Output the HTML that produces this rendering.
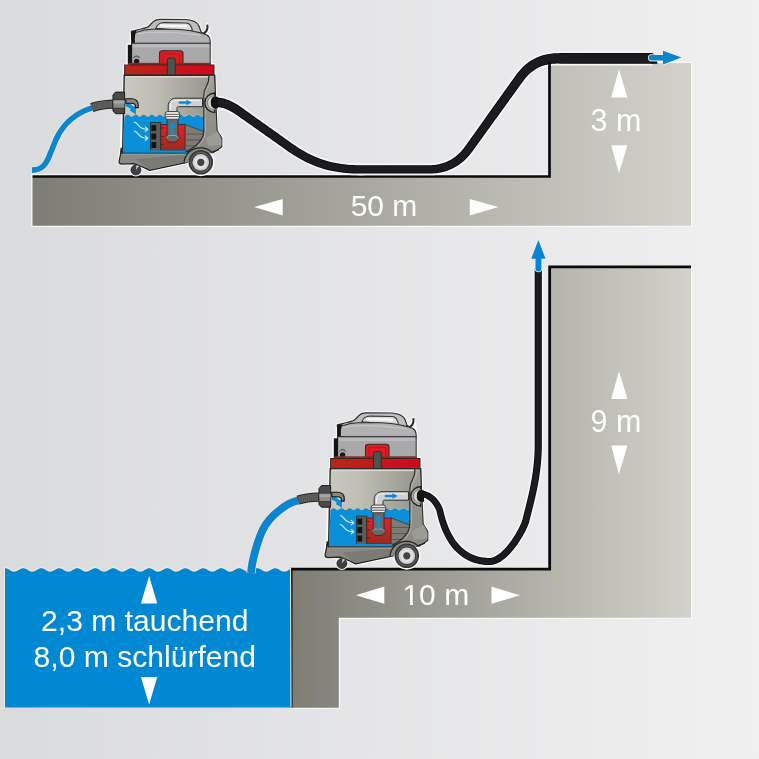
<!DOCTYPE html>
<html><head><meta charset="utf-8">
<style>
html,body{margin:0;padding:0;width:759px;height:759px;overflow:hidden;background:#e5e5e6;}
svg{display:block;}
text{font-family:"Liberation Sans",sans-serif;}
</style></head><body>
<svg width="759" height="759" viewBox="0 0 759 759">
<defs>
<linearGradient id="bg" x1="0" y1="0" x2="759" y2="0" gradientUnits="userSpaceOnUse">
<stop offset="0" stop-color="#dadbdd"/><stop offset="1" stop-color="#f0f0f1"/>
</linearGradient>
<linearGradient id="blk" x1="33" y1="0" x2="691" y2="0" gradientUnits="userSpaceOnUse">
<stop offset="0" stop-color="#7d7d74"/><stop offset="1" stop-color="#d2d2ca"/>
</linearGradient>
<linearGradient id="blk2" x1="290" y1="0" x2="691" y2="0" gradientUnits="userSpaceOnUse">
<stop offset="0" stop-color="#7d7d74"/><stop offset="1" stop-color="#d2d2ca"/>
</linearGradient>
<linearGradient id="redband" x1="124" y1="0" x2="214" y2="0" gradientUnits="userSpaceOnUse">
<stop offset="0" stop-color="#b22a1a"/><stop offset="0.5" stop-color="#c4181c"/><stop offset="1" stop-color="#d2061c"/>
</linearGradient>
<linearGradient id="tankg" x1="125" y1="0" x2="210" y2="0" gradientUnits="userSpaceOnUse">
<stop offset="0" stop-color="#c9c8be"/><stop offset="0.35" stop-color="#bfbeb4"/><stop offset="1" stop-color="#97968c"/>
</linearGradient>
<linearGradient id="pumpred" x1="0" y1="124" x2="0" y2="151" gradientUnits="userSpaceOnUse">
<stop offset="0" stop-color="#e5202a"/><stop offset="1" stop-color="#9a2a1c"/>
</linearGradient>
<linearGradient id="shellg" x1="0" y1="75" x2="0" y2="150" gradientUnits="userSpaceOnUse">
<stop offset="0" stop-color="#a2a199"/><stop offset="0.5" stop-color="#93928b"/><stop offset="1" stop-color="#8a8984"/>
</linearGradient>
<g id="vac">
<g fill="#fbfbfb" stroke="#fbfbfb" stroke-width="3" stroke-linejoin="round">
<path d="M131.3,31.4 L137.5,29.8 C141,29 144,28.5 147,27.4 C150,26 151,23.5 153.5,21.5 C155,20 156.5,19.3 160,19.3 L186,19.5 C193,20 197,21.5 199,26 L201,31.8 L204.3,33.7 L207.5,24.6 L210.2,40 L210.2,64.6 L214,64.6 L214.6,75.2 L216.3,112 L217.2,130.5 L221.8,138 L221.8,147 L213.5,152.6 L200.8,174.6 L188.5,162.3 L149.6,170.7 L146,168.6 L133,163.6 L122,164.1 L119,161.3 L121.2,148 L124.2,75.2 L124.6,65 L127.8,64.6 L127.8,44.8 L131.5,43.2 Z"/>
<circle cx="200.8" cy="162.3" r="12.3"/>
<circle cx="135.9" cy="170" r="5"/>
</g>
<!-- handle -->
<path d="M131.3,31.4 L137.5,29.8 C141,29 144,28.5 147,27.4 C150,26 151,23.5 153.5,21.5 C155,20 156.5,19.3 160,19.3 L186,19.5 C193,20 197,21.5 199,26 L201,31.8 L204.3,33.7 L204,40 L132,40 Z" fill="#bebec0" stroke="#2e2e2e" stroke-width="1.2" stroke-linejoin="round"/>
<path d="M155.8,28.4 C157.3,24.5 159,22.6 164,22.6 L186.5,23 C190.5,23.5 191.8,26.5 192.4,31.2 Z" fill="#dcdcde" stroke="#333" stroke-width="1.1"/>
<path d="M160,25.6 L187,26.2" stroke="#fafafa" stroke-width="2" fill="none"/>
<!-- hook -->
<path d="M203.6,33.8 C206,32 207.5,30 207.5,27.5 L207.3,24.6" fill="none" stroke="#2a2a2a" stroke-width="2"/>
<!-- dome -->
<path d="M132,43.6 L132.3,33 C134,32.5 136,32.4 137.5,32 C142,30.2 146,29.3 152,29.2 L175,29.2 C186,29.6 195,31.2 201.6,33.1 L206.9,35 C208.8,36.2 209.9,38 210.1,40.5 L210.2,43.6 Z" fill="#b2b2b4" stroke="#2e2e2e" stroke-width="1.1" stroke-linejoin="round"/>
<path d="M137,33.8 C150,31.5 170,31.3 200,35.3" stroke="#cbcbcd" stroke-width="1" fill="none"/>
<path d="M131.2,31.5 L136.5,30.8 C135,34 134.5,38 135,43.5 L131.2,43.5 Z" fill="#141414"/>
<!-- lower head -->
<rect x="131.5" y="43.2" width="78.7" height="21" fill="#a9a9ab" stroke="#2e2e2e" stroke-width="1"/>
<rect x="133" y="44.5" width="76" height="3" fill="#bbbbbd"/>
<rect x="127.8" y="44.8" width="4.3" height="19.5" fill="#141414"/>
<circle cx="136.6" cy="61.5" r="2.7" fill="#1a1a1a"/>
<path d="M133.5,58 C135,55.5 138,55.5 139.7,58" stroke="#222" stroke-width="0.9" fill="none"/>
<!-- red clip -->
<path d="M159.5,64.6 L159.5,53.5 C159.5,51.8 160.6,50.8 162.4,50.8 L180.2,50.8 C182,50.8 183,51.8 183,53.5 L183,64.6 Z" fill="#dc1c22" stroke="#3a2a2a" stroke-width="1.1"/>
<path d="M163,64 L163,55.5 C163,54.5 163.6,54 164.6,54 L178,54 C179,54 179.6,54.5 179.6,55.5 L179.6,64" fill="none" stroke="#b01a1a" stroke-width="0.8"/>
<!-- red band -->
<rect x="128.5" y="62.8" width="82" height="2.4" fill="#8c2a20"/>
<rect x="124.6" y="65" width="89.4" height="10" fill="url(#redband)" stroke="#3a2420" stroke-width="1"/>
<path d="M125.5,66.2 H213.2 M125.5,73.8 H213.2" stroke="#e8101c" stroke-width="0.9" opacity="0.55"/>
<!-- grey latch -->
<path d="M167.4,75.2 L167.4,60 C167.4,58.6 168.3,58.1 169.5,58.1 L173.2,58.1 C174.4,58.1 175.3,58.6 175.3,60 L175.3,75.2 Z" fill="#4f5350" stroke="#2a2a2a" stroke-width="0.9"/>
<!-- tank body -->
<path d="M124.2,75.2 L214.6,75.2 L215.3,120 L202,152.5 L122.6,152.5 Z" fill="url(#tankg)" stroke="#2a2a2a" stroke-width="1.4"/>
<rect x="126" y="76" width="82" height="1.6" fill="#d8d7cf"/>
<!-- water in tank -->
<path d="M124.5,115.99 L125.1,115.59 L125.7,115.13 L126.3,114.70 L126.9,114.41 L127.5,114.30 L128.1,114.41 L128.7,114.70 L129.3,115.13 L129.9,115.59 L130.5,115.99 L131.1,116.24 L131.7,116.29 L132.3,116.14 L132.9,115.80 L133.5,115.36 L134.1,114.90 L134.7,114.53 L135.3,114.33 L135.9,114.33 L136.5,114.53 L137.1,114.90 L137.7,115.36 L138.3,115.80 L138.9,116.14 L139.5,116.29 L140.1,116.24 L140.7,115.99 L141.3,115.59 L141.9,115.13 L142.5,114.70 L143.1,114.41 L143.7,114.30 L144.3,114.41 L144.9,114.70 L145.5,115.13 L146.1,115.59 L146.7,115.99 L147.3,116.24 L147.9,116.29 L148.5,116.14 L149.1,115.80 L149.7,115.36 L150.3,114.90 L150.9,114.53 L151.5,114.33 L152.1,114.33 L152.7,114.53 L153.3,114.90 L153.9,115.36 L154.5,115.80 L155.1,116.14 L155.7,116.29 L156.3,116.24 L156.9,115.99 L157.5,115.59 L158.1,115.13 L158.7,114.70 L159.3,114.41 L159.9,114.30 L160.5,114.41 L161.1,114.70 L161.7,115.13 L162.3,115.59 L162.9,115.99 L163.5,116.24 L164.1,116.29 L164.7,116.14 L165.3,115.80 L165.9,115.36 L166.5,114.90 L167.1,114.53 L167.7,114.33 L168.3,114.33 L168.9,114.53 L169.5,114.90 L170.1,115.36 L170.7,115.80 L171.3,116.14 L171.9,116.29 L172.5,114.43 L173.1,114.72 L173.7,115.12 L174.3,115.55 L174.9,115.94 L175.5,116.21 L176.1,116.30 L176.7,116.21 L177.3,115.94 L177.9,115.55 L178.5,115.12 L179.1,114.72 L179.7,114.43 L180.3,114.30 L180.9,114.37 L181.5,114.61 L182.1,114.98 L182.7,115.41 L183.3,115.82 L183.9,116.13 L184.5,116.29 L185.1,116.26 L185.7,116.04 L186.3,115.69 L186.9,115.26 L187.5,114.84 L188.1,114.51 L188.7,114.32 L189.3,114.32 L189.9,114.51 L190.5,114.84 L191.1,115.26 L191.7,115.69 L192.3,116.04 L192.9,116.26 L193.5,116.29 L194.1,116.13 L194.7,115.82 L195.3,115.41 L195.9,114.98 L196.5,114.61 L197.1,114.37 L197.7,114.30 L198.3,114.43 L198.9,114.72 L199.5,115.12 L200.1,115.55 L200.7,115.94 L201.3,116.21 L201.9,116.30 L202.5,116.21 L203.1,115.94 L203.7,115.55 L204,153 L122.8,153 Z" fill="#0a90d8"/>
<path d="M124.5,115.99 L125.1,115.59 L125.7,115.13 L126.3,114.70 L126.9,114.41 L127.5,114.30 L128.1,114.41 L128.7,114.70 L129.3,115.13 L129.9,115.59 L130.5,115.99 L131.1,116.24 L131.7,116.29 L132.3,116.14 L132.9,115.80 L133.5,115.36 L134.1,114.90 L134.7,114.53 L135.3,114.33 L135.9,114.33 L136.5,114.53 L137.1,114.90 L137.7,115.36 L138.3,115.80 L138.9,116.14 L139.5,116.29 L140.1,116.24 L140.7,115.99 L141.3,115.59 L141.9,115.13 L142.5,114.70 L143.1,114.41 L143.7,114.30 L144.3,114.41 L144.9,114.70 L145.5,115.13 L146.1,115.59 L146.7,115.99 L147.3,116.24 L147.9,116.29 L148.5,116.14 L149.1,115.80 L149.7,115.36 L150.3,114.90 L150.9,114.53 L151.5,114.33 L152.1,114.33 L152.7,114.53 L153.3,114.90 L153.9,115.36 L154.5,115.80 L155.1,116.14 L155.7,116.29 L156.3,116.24 L156.9,115.99 L157.5,115.59 L158.1,115.13 L158.7,114.70 L159.3,114.41 L159.9,114.30 L160.5,114.41 L161.1,114.70 L161.7,115.13 L162.3,115.59 L162.9,115.99 L163.5,116.24 L164.1,116.29 L164.7,116.14 L165.3,115.80 L165.9,115.36 L166.5,114.90 L167.1,114.53 L167.7,114.33 L168.3,114.33 L168.9,114.53 L169.5,114.90 L170.1,115.36 L170.7,115.80 L171.3,116.14 L171.9,116.29 L172.5,114.43 L173.1,114.72 L173.7,115.12 L174.3,115.55 L174.9,115.94 L175.5,116.21 L176.1,116.30 L176.7,116.21 L177.3,115.94 L177.9,115.55 L178.5,115.12 L179.1,114.72 L179.7,114.43 L180.3,114.30 L180.9,114.37 L181.5,114.61 L182.1,114.98 L182.7,115.41 L183.3,115.82 L183.9,116.13 L184.5,116.29 L185.1,116.26 L185.7,116.04 L186.3,115.69 L186.9,115.26 L187.5,114.84 L188.1,114.51 L188.7,114.32 L189.3,114.32 L189.9,114.51 L190.5,114.84 L191.1,115.26 L191.7,115.69 L192.3,116.04 L192.9,116.26 L193.5,116.29 L194.1,116.13 L194.7,115.82 L195.3,115.41 L195.9,114.98 L196.5,114.61 L197.1,114.37 L197.7,114.30 L198.3,114.43 L198.9,114.72 L199.5,115.12 L200.1,115.55 L200.7,115.94 L201.3,116.21 L201.9,116.30 L202.5,116.21 L203.1,115.94 L203.7,115.55" fill="none" stroke="#e9b993" stroke-width="0.9"/>
<!-- inlet spout + stream -->
<path d="M125.8,101.9 L135.9,106.7 L135.9,114.8 L133,113 L129,110.6 L130,109 L125.8,106.4 Z" fill="#0a90d8"/>
<path d="M125.9,106.8 L130.2,109.1 L129.2,110.8 L135.3,114.6" fill="none" stroke="#f1cfb5" stroke-width="0.9"/>
<path d="M131.8,104.4 L134.6,106.6" fill="none" stroke="#f6e0cf" stroke-width="1.1"/>
<path d="M125.8,98.7 L131,98.7 C135.5,98.7 138.2,101.3 138.2,105 L138.2,107.6 L135.3,107.6 L135.3,105.5 C135.3,104 134,103.2 131.5,103.2 L125.8,103.2 Z" fill="#8a8985" stroke="#111" stroke-width="1.1" stroke-linejoin="round"/>
<!-- swirl arrows -->
<path d="M134.3,122 C137.5,122.8 138.5,126.5 141.5,128 C143.5,129 145.5,129.3 147.6,129.3 M145.2,126.9 L147.9,129.3 L145.2,131.4 M134.3,131 C137.5,131.8 138.5,135.5 141.5,137 C143.5,138 145.5,138.3 147.6,138.3 M145.2,135.9 L147.9,138.3 L145.2,140.4" stroke="#cfeafa" stroke-width="1.1" fill="none" stroke-linecap="round" stroke-linejoin="round"/>
<!-- pump grille -->
<rect x="150.6" y="122.6" width="10.2" height="29.6" fill="#5e5d58" stroke="#2a2a2a" stroke-width="0.8"/>
<rect x="151.4" y="125" width="4.8" height="6" fill="#141414"/>
<rect x="151.4" y="133.5" width="4.8" height="6" fill="#141414"/>
<rect x="151.4" y="142" width="4.8" height="6" fill="#141414"/>
<!-- pump red -->
<rect x="160.8" y="124.5" width="24.4" height="26" fill="url(#pumpred)" stroke="#2a2a2a" stroke-width="0.8"/>
<path d="M161,128 H164 M161,136.5 H164 M161,144.5 H164" stroke="#2a2a2a" stroke-width="0.8"/>
<!-- motor grey -->
<path d="M185.2,124.5 L203.8,131.6 L203.8,150.4 L185.2,150.4 Z" fill="#7c7b76" stroke="#3a3a3a" stroke-width="0.8"/>
<path d="M186,134 H203 M186,140 H203 M186,146 H203" stroke="#56554f" stroke-width="0.9"/>
<rect x="122.8" y="150.4" width="81" height="3.2" fill="#0a90d8"/>
<!-- vertical pipe in pump -->
<path d="M167.1,118 L178,118 L178,136 L179.2,138.5 L176,142 L169,142 L165.6,138.5 L167.1,136 Z" fill="#6b6762" stroke="#2a2a2a" stroke-width="0.8"/>
<path d="M165.8,138 L169,135.5 L176,135.5 L179,138" fill="none" stroke="#9cc8dc" stroke-width="0.7"/>
<path d="M172.4,121.2 L176.3,127.6 L174,127.6 L174,135 L170.8,135 L170.8,127.6 L168.5,127.6 Z" fill="#0a90d8"/>
<!-- pipe up + elbow -->
<path d="M168.2,112 L168.2,106 C168.2,101.5 171.5,98.2 176,98.2 L202.5,98.2 L202.5,106.7 L178.5,106.7 C177.5,106.7 177,107.2 177,108.2 L177,112 Z" fill="#cfd1d3" stroke="#2e2e2e" stroke-width="1"/>
<path d="M170.5,110 L170.5,106 C170.5,103 172.5,100.5 176,100.5 L200,100.5" fill="none" stroke="#eeeff0" stroke-width="1.2"/>
<path d="M178.8,102.5 L187,102.5" stroke="#0a88d4" stroke-width="2.4"/>
<path d="M186.5,99.8 L191.8,102.5 L186.5,105.2 Z" fill="#0a88d4"/>
<!-- collar -->
<rect x="165.2" y="111.6" width="14.5" height="7.6" rx="2.2" fill="#ececec" stroke="#333" stroke-width="0.9"/>
<path d="M165.6,114.2 H179.3 M165.6,116.7 H179.3" stroke="#3a3a3a" stroke-width="0.9"/>
<path d="M167,113 H178 M167,118 H178" stroke="#ffffff" stroke-width="0.6"/>
<!-- shell right -->
<path d="M208.9,75.2 C209.2,79 208.8,82 206.5,86 C204,90 203.8,92 203.8,96 L203.8,131 C203.8,136 202,140 196,145.5 C192,148.5 189,150.5 186.3,151.5 L211.6,152.8 L213.5,152.6 L221.8,147 L221.8,138 L217.2,130.5 L216.3,112 L214.6,75.2 Z" fill="url(#shellg)" stroke="#2a2a2a" stroke-width="1.1" stroke-linejoin="round"/>
<path d="M210.3,76 C210.8,80 210.4,83 208,87 C205.6,91 205.3,93 205.3,97 L205.3,131 C205.3,137 203,141.5 197.5,146.5" fill="none" stroke="#bdbcb5" stroke-width="0.7"/>
<path d="M205.5,138 L217.8,131.5 L221.3,139 L221.5,145 L208,146 Z" fill="#9c9b96"/>
<!-- shell bottom -->
<path d="M121.2,148 C120.8,154 119.8,158.5 119,161.3 C119,163.3 120.3,164.1 122,164.1 L133,163.6 C137,164 141,166.5 146,168.6 L149.6,170.4 L187.1,162.3 L188,153.4 L122.3,153.4 Z" fill="#8a8984" stroke="#1e1e1e" stroke-width="1.2" stroke-linejoin="round"/>
<path d="M135.8,159.3 L176.3,155.4 L187,156 L187,161.8 L149.6,169.6 Z" fill="#7b7a75"/>
<path d="M123,154.6 L187,154.6" stroke="#9e9d97" stroke-width="1"/>
<path d="M122.6,153.6 L187,153.6" stroke="#8a6a55" stroke-width="0.8"/>
<!-- fender arch -->
<path d="M184,163.2 C184.5,154 191.5,147.8 200.8,147.8 C206,147.8 209.5,150 211.5,152.2 L219,149.6" fill="#8a8984" stroke="#222" stroke-width="1.2"/>
<!-- castor -->
<circle cx="135.9" cy="170" r="5" fill="#404040" stroke="#1e1e1e" stroke-width="0.8"/>
<path d="M135.9,170 L136.6,165 L139,166 Z" fill="#cfcfcf"/>
<!-- big wheel -->
<circle cx="200.8" cy="162.3" r="12.3" fill="#383838"/>
<circle cx="200.8" cy="162.3" r="10.5" fill="#6a6a6a"/>
<circle cx="200.8" cy="162.3" r="9.6" fill="#3a3a3a"/>
<circle cx="200.8" cy="162.3" r="8.3" fill="#cfcfcf"/>
<circle cx="200.8" cy="162.3" r="6.3" fill="#e2e2e2"/>
<circle cx="200.8" cy="162.3" r="3.6" fill="#444"/>
<!-- right coupling -->
<path d="M214.6,93 C209,93.5 204.8,97.5 204.8,102.8 C204.8,108 209,112 214.6,112.6 Z" fill="#a9a9a5" stroke="#1e1e1e" stroke-width="1.3"/>
<path d="M214.6,95.8 C210.5,96.3 207.6,99 207.6,102.8 C207.6,106.5 210.5,109.3 214.6,109.8 Z" fill="#d6d6d4" stroke="#6a6a68" stroke-width="0.8"/>
<path d="M210.8,102.5 C210.8,98.2 212.5,96.7 215.5,96.6 L218,96.9 L218,108.2 L215.5,108.4 C212.5,108.3 210.8,106.8 210.8,102.5 Z" fill="#141416"/>
<!-- inlet coupling -->
<path d="M113,95 L115.5,92.1 L124.6,92.1 L124.6,113.7 L115.5,113.7 L113,111 Z" fill="#4a4a48" stroke="#1a1a1a" stroke-width="1"/>
<rect x="113" y="99.6" width="11.8" height="8.5" fill="#8c8c88" stroke="#2a2a2a" stroke-width="0.7"/>
<rect x="113.5" y="101" width="11" height="2.5" fill="#a6a6a2"/>
</g>

</defs>
<rect x="0" y="0" width="759" height="759" fill="url(#bg)"/>
<!-- TOP GROUND -->
<path d="M32.5,175.2 H550 V63 H691 V225.8 H32.5 Z" fill="none" stroke="#f8f8f9" stroke-width="2.6"/>
<path d="M32.5,177 H550 V63 H691 V225.8 H32.5 Z" fill="url(#blk)"/>
<path d="M32.5,176.5 H549.5 V60" fill="none" stroke="#0a0a0a" stroke-width="2.7"/>
<!-- BOTTOM GROUND -->
<path d="M291,569 H550 V266.8 H691 V617.8 H338.8 V707.7 H291 Z" fill="none" stroke="#f8f8f9" stroke-width="2.6"/>
<path d="M291,569 H550 V266.8 H691 V617.8 H338.8 V707.7 H291 Z" fill="url(#blk2)"/>
<path d="M691,266.8 H549.65 V569.2 H291.1 V707.6" fill="none" stroke="#0a0a0a" stroke-width="2.8"/>
<!-- WATER -->
<path d="M5,707.6 L5.0,568.15 L6.0,568.22 L7.0,568.48 L8.0,568.92 L9.0,569.48 L10.0,570.08 L11.0,570.67 L12.0,571.16 L13.0,571.50 L14.0,571.65 L15.0,571.58 L16.0,571.32 L17.0,570.88 L18.0,570.32 L19.0,569.72 L20.0,569.13 L21.0,568.64 L22.0,568.30 L23.0,568.15 L24.0,568.22 L25.0,568.48 L26.0,568.92 L27.0,569.48 L28.0,570.08 L29.0,570.67 L30.0,571.16 L31.0,571.50 L32.0,571.65 L33.0,571.58 L34.0,571.32 L35.0,570.88 L36.0,570.32 L37.0,569.72 L38.0,569.13 L39.0,568.64 L40.0,568.30 L41.0,568.15 L42.0,568.22 L43.0,568.48 L44.0,568.92 L45.0,569.48 L46.0,570.08 L47.0,570.67 L48.0,571.16 L49.0,571.50 L50.0,571.65 L51.0,571.58 L52.0,571.32 L53.0,570.88 L54.0,570.32 L55.0,569.72 L56.0,569.13 L57.0,568.64 L58.0,568.30 L59.0,568.15 L60.0,568.22 L61.0,568.48 L62.0,568.92 L63.0,569.48 L64.0,570.08 L65.0,570.67 L66.0,571.16 L67.0,571.50 L68.0,571.65 L69.0,571.58 L70.0,571.32 L71.0,570.88 L72.0,570.32 L73.0,569.72 L74.0,569.13 L75.0,568.64 L76.0,568.30 L77.0,568.15 L78.0,568.22 L79.0,568.48 L80.0,568.92 L81.0,569.48 L82.0,570.08 L83.0,570.67 L84.0,571.16 L85.0,571.50 L86.0,571.65 L87.0,571.58 L88.0,571.32 L89.0,570.88 L90.0,570.32 L91.0,569.72 L92.0,569.13 L93.0,568.64 L94.0,568.30 L95.0,568.15 L96.0,568.22 L97.0,568.48 L98.0,568.92 L99.0,569.48 L100.0,570.08 L101.0,570.67 L102.0,571.16 L103.0,571.50 L104.0,571.65 L105.0,571.58 L106.0,571.32 L107.0,570.88 L108.0,570.32 L109.0,569.72 L110.0,569.13 L111.0,568.64 L112.0,568.30 L113.0,568.15 L114.0,568.22 L115.0,568.48 L116.0,568.92 L117.0,569.48 L118.0,570.08 L119.0,570.67 L120.0,571.16 L121.0,571.50 L122.0,571.65 L123.0,571.58 L124.0,571.32 L125.0,570.88 L126.0,570.32 L127.0,569.72 L128.0,569.13 L129.0,568.64 L130.0,568.30 L131.0,568.15 L132.0,568.22 L133.0,568.48 L134.0,568.92 L135.0,569.48 L136.0,570.08 L137.0,570.67 L138.0,571.16 L139.0,571.50 L140.0,571.65 L141.0,571.58 L142.0,571.32 L143.0,570.88 L144.0,570.32 L145.0,569.72 L146.0,569.13 L147.0,568.64 L148.0,568.30 L149.0,568.15 L150.0,568.22 L151.0,568.48 L152.0,568.92 L153.0,569.48 L154.0,570.08 L155.0,570.67 L156.0,571.16 L157.0,571.50 L158.0,571.65 L159.0,571.58 L160.0,571.32 L161.0,570.88 L162.0,570.32 L163.0,569.72 L164.0,569.13 L165.0,568.64 L166.0,568.30 L167.0,568.15 L168.0,568.22 L169.0,568.48 L170.0,568.92 L171.0,569.48 L172.0,570.08 L173.0,570.67 L174.0,571.16 L175.0,571.50 L176.0,571.65 L177.0,571.58 L178.0,571.32 L179.0,570.88 L180.0,570.32 L181.0,569.72 L182.0,569.13 L183.0,568.64 L184.0,568.30 L185.0,568.15 L186.0,568.22 L187.0,568.48 L188.0,568.92 L189.0,569.48 L190.0,570.08 L191.0,570.67 L192.0,571.16 L193.0,571.50 L194.0,571.65 L195.0,571.58 L196.0,571.32 L197.0,570.88 L198.0,570.32 L199.0,569.72 L200.0,569.13 L201.0,568.64 L202.0,568.30 L203.0,568.15 L204.0,568.22 L205.0,568.48 L206.0,568.92 L207.0,569.48 L208.0,570.08 L209.0,570.67 L210.0,571.16 L211.0,571.50 L212.0,571.65 L213.0,571.58 L214.0,571.32 L215.0,570.88 L216.0,570.32 L217.0,569.72 L218.0,569.13 L219.0,568.64 L220.0,568.30 L221.0,568.15 L222.0,568.22 L223.0,568.48 L224.0,568.92 L225.0,569.48 L226.0,570.08 L227.0,570.67 L228.0,571.16 L229.0,571.50 L230.0,571.65 L231.0,571.58 L232.0,571.32 L233.0,570.88 L234.0,570.32 L235.0,569.72 L236.0,569.13 L237.0,568.64 L238.0,568.30 L239.0,568.15 L240.0,568.22 L241.0,568.48 L242.0,568.92 L243.0,569.48 L244.0,570.08 L245.0,570.67 L246.0,571.16 L247.0,571.50 L248.0,571.65 L249.0,571.58 L250.0,571.32 L251.0,570.88 L252.0,570.32 L253.0,569.72 L254.0,569.13 L255.0,568.64 L256.0,568.30 L257.0,568.15 L258.0,568.22 L259.0,568.48 L260.0,568.92 L261.0,569.48 L262.0,570.08 L263.0,570.67 L264.0,571.16 L265.0,571.50 L266.0,571.65 L267.0,571.58 L268.0,571.32 L269.0,570.88 L270.0,570.32 L271.0,569.72 L272.0,569.13 L273.0,568.64 L274.0,568.30 L275.0,568.15 L276.0,568.22 L277.0,568.48 L278.0,568.92 L279.0,569.48 L280.0,570.08 L281.0,570.67 L282.0,571.16 L283.0,571.50 L284.0,571.65 L285.0,571.58 L286.0,571.32 L287.0,570.88 L288.0,570.32 L289.0,569.72 L290.0,569.13 L290.5,707.6" fill="none" stroke="#f7e8dc" stroke-width="2.2"/>
<path d="M5.0,568.15 L6.0,568.22 L7.0,568.48 L8.0,568.92 L9.0,569.48 L10.0,570.08 L11.0,570.67 L12.0,571.16 L13.0,571.50 L14.0,571.65 L15.0,571.58 L16.0,571.32 L17.0,570.88 L18.0,570.32 L19.0,569.72 L20.0,569.13 L21.0,568.64 L22.0,568.30 L23.0,568.15 L24.0,568.22 L25.0,568.48 L26.0,568.92 L27.0,569.48 L28.0,570.08 L29.0,570.67 L30.0,571.16 L31.0,571.50 L32.0,571.65 L33.0,571.58 L34.0,571.32 L35.0,570.88 L36.0,570.32 L37.0,569.72 L38.0,569.13 L39.0,568.64 L40.0,568.30 L41.0,568.15 L42.0,568.22 L43.0,568.48 L44.0,568.92 L45.0,569.48 L46.0,570.08 L47.0,570.67 L48.0,571.16 L49.0,571.50 L50.0,571.65 L51.0,571.58 L52.0,571.32 L53.0,570.88 L54.0,570.32 L55.0,569.72 L56.0,569.13 L57.0,568.64 L58.0,568.30 L59.0,568.15 L60.0,568.22 L61.0,568.48 L62.0,568.92 L63.0,569.48 L64.0,570.08 L65.0,570.67 L66.0,571.16 L67.0,571.50 L68.0,571.65 L69.0,571.58 L70.0,571.32 L71.0,570.88 L72.0,570.32 L73.0,569.72 L74.0,569.13 L75.0,568.64 L76.0,568.30 L77.0,568.15 L78.0,568.22 L79.0,568.48 L80.0,568.92 L81.0,569.48 L82.0,570.08 L83.0,570.67 L84.0,571.16 L85.0,571.50 L86.0,571.65 L87.0,571.58 L88.0,571.32 L89.0,570.88 L90.0,570.32 L91.0,569.72 L92.0,569.13 L93.0,568.64 L94.0,568.30 L95.0,568.15 L96.0,568.22 L97.0,568.48 L98.0,568.92 L99.0,569.48 L100.0,570.08 L101.0,570.67 L102.0,571.16 L103.0,571.50 L104.0,571.65 L105.0,571.58 L106.0,571.32 L107.0,570.88 L108.0,570.32 L109.0,569.72 L110.0,569.13 L111.0,568.64 L112.0,568.30 L113.0,568.15 L114.0,568.22 L115.0,568.48 L116.0,568.92 L117.0,569.48 L118.0,570.08 L119.0,570.67 L120.0,571.16 L121.0,571.50 L122.0,571.65 L123.0,571.58 L124.0,571.32 L125.0,570.88 L126.0,570.32 L127.0,569.72 L128.0,569.13 L129.0,568.64 L130.0,568.30 L131.0,568.15 L132.0,568.22 L133.0,568.48 L134.0,568.92 L135.0,569.48 L136.0,570.08 L137.0,570.67 L138.0,571.16 L139.0,571.50 L140.0,571.65 L141.0,571.58 L142.0,571.32 L143.0,570.88 L144.0,570.32 L145.0,569.72 L146.0,569.13 L147.0,568.64 L148.0,568.30 L149.0,568.15 L150.0,568.22 L151.0,568.48 L152.0,568.92 L153.0,569.48 L154.0,570.08 L155.0,570.67 L156.0,571.16 L157.0,571.50 L158.0,571.65 L159.0,571.58 L160.0,571.32 L161.0,570.88 L162.0,570.32 L163.0,569.72 L164.0,569.13 L165.0,568.64 L166.0,568.30 L167.0,568.15 L168.0,568.22 L169.0,568.48 L170.0,568.92 L171.0,569.48 L172.0,570.08 L173.0,570.67 L174.0,571.16 L175.0,571.50 L176.0,571.65 L177.0,571.58 L178.0,571.32 L179.0,570.88 L180.0,570.32 L181.0,569.72 L182.0,569.13 L183.0,568.64 L184.0,568.30 L185.0,568.15 L186.0,568.22 L187.0,568.48 L188.0,568.92 L189.0,569.48 L190.0,570.08 L191.0,570.67 L192.0,571.16 L193.0,571.50 L194.0,571.65 L195.0,571.58 L196.0,571.32 L197.0,570.88 L198.0,570.32 L199.0,569.72 L200.0,569.13 L201.0,568.64 L202.0,568.30 L203.0,568.15 L204.0,568.22 L205.0,568.48 L206.0,568.92 L207.0,569.48 L208.0,570.08 L209.0,570.67 L210.0,571.16 L211.0,571.50 L212.0,571.65 L213.0,571.58 L214.0,571.32 L215.0,570.88 L216.0,570.32 L217.0,569.72 L218.0,569.13 L219.0,568.64 L220.0,568.30 L221.0,568.15 L222.0,568.22 L223.0,568.48 L224.0,568.92 L225.0,569.48 L226.0,570.08 L227.0,570.67 L228.0,571.16 L229.0,571.50 L230.0,571.65 L231.0,571.58 L232.0,571.32 L233.0,570.88 L234.0,570.32 L235.0,569.72 L236.0,569.13 L237.0,568.64 L238.0,568.30 L239.0,568.15 L240.0,568.22 L241.0,568.48 L242.0,568.92 L243.0,569.48 L244.0,570.08 L245.0,570.67 L246.0,571.16 L247.0,571.50 L248.0,571.65 L249.0,571.58 L250.0,571.32 L251.0,570.88 L252.0,570.32 L253.0,569.72 L254.0,569.13 L255.0,568.64 L256.0,568.30 L257.0,568.15 L258.0,568.22 L259.0,568.48 L260.0,568.92 L261.0,569.48 L262.0,570.08 L263.0,570.67 L264.0,571.16 L265.0,571.50 L266.0,571.65 L267.0,571.58 L268.0,571.32 L269.0,570.88 L270.0,570.32 L271.0,569.72 L272.0,569.13 L273.0,568.64 L274.0,568.30 L275.0,568.15 L276.0,568.22 L277.0,568.48 L278.0,568.92 L279.0,569.48 L280.0,570.08 L281.0,570.67 L282.0,571.16 L283.0,571.50 L284.0,571.65 L285.0,571.58 L286.0,571.32 L287.0,570.88 L288.0,570.32 L289.0,569.72 L290.0,569.13 L290.5,707.6 L5,707.6 Z" fill="#0089d2"/>
<!-- top blue hose -->
<path d="M32,170.1 C42.5,170.1 46.5,164 50.5,153 L56,139.5 C62,126 73,114 92,107.8" fill="none" stroke="#fbe9dc" stroke-width="7"/>
<path d="M32,170.1 C42.5,170.1 46.5,164 50.5,153 L56,139.5 C62,126 73,114 92,107.8" fill="none" stroke="#0a86d0" stroke-width="5.6"/>
<!-- top grey hose -->
<path d="M91.8,107.6 Q100,104.6 113,104.2" fill="none" stroke="#222" stroke-width="9.2"/>
<path d="M91.8,107.6 Q100,104.6 113,104.2" fill="none" stroke="#62625f" stroke-width="7.2"/>
<path d="M92.5,107.4 Q100,104.6 113,104.2" fill="none" stroke="#50504e" stroke-width="6.6" stroke-dasharray="0.8 1.4"/>
<path d="M210.84,108.40 L212.06,108.41 L213.18,108.45 L214.26,108.50 L215.29,108.58 L216.29,108.67 L217.25,108.78 L218.18,108.91 L219.08,109.05 L219.95,109.21 L220.79,109.39 L221.62,109.59 L222.42,109.80 L223.20,110.03 L223.97,110.28 L224.73,110.55 L225.48,110.83 L226.22,111.13 L226.96,111.45 L227.70,111.80 L228.44,112.16 L229.18,112.54 L229.93,112.95 L230.69,113.38 L231.45,113.83 L232.23,114.31 L233.02,114.80 L233.83,115.33 L234.65,115.87 L235.49,116.44 L236.36,117.04 L237.86,118.09 L239.37,119.14 L240.88,120.19 L242.39,121.24 L243.90,122.30 L245.41,123.35 L246.91,124.40 L248.42,125.46 L249.92,126.52 L251.42,127.58 L252.92,128.64 L254.42,129.70 L255.93,130.77 L257.43,131.83 L258.93,132.89 L260.43,133.95 L261.93,135.01 L263.43,136.07 L264.94,137.13 L266.44,138.19 L267.94,139.25 L269.44,140.31 L270.94,141.37 L272.44,142.44 L273.95,143.50 L275.45,144.56 L276.95,145.62 L278.45,146.68 L279.95,147.74 L281.43,148.78 L283.43,150.23 L285.49,151.68 L287.56,153.11 L289.65,154.52 L291.75,155.90 L293.89,157.25 L296.05,158.57 L298.24,159.85 L300.46,161.10 L302.73,162.32 L305.03,163.49 L307.37,164.62 L309.76,165.71 L312.20,166.75 L314.70,167.74 L317.24,168.67 L319.84,169.56 L322.50,170.39 L325.23,171.16 L328.01,171.88 L330.87,172.53 L333.79,173.12 L336.78,173.64 L339.85,174.10 L343.00,174.49 L346.23,174.81 L349.54,175.06 L352.94,175.24 L356.42,175.35 L359.96,175.38 L362.29,175.38 L364.57,175.37 L366.86,175.37 L369.15,175.36 L371.43,175.36 L373.72,175.35 L376.01,175.35 L378.29,175.34 L380.58,175.34 L382.87,175.33 L385.15,175.33 L387.44,175.33 L389.73,175.32 L392.01,175.32 L394.30,175.31 L396.59,175.31 L398.87,175.30 L401.16,175.30 L403.45,175.31 L405.73,175.31 L408.02,175.32 L410.31,175.33 L412.59,175.33 L414.88,175.34 L417.17,175.34 L419.45,175.35 L421.74,175.35 L424.03,175.36 L426.31,175.37 L428.63,175.37 L430.44,175.35 L432.27,175.28 L434.07,175.16 L435.85,174.99 L437.62,174.77 L439.36,174.49 L441.08,174.17 L442.78,173.80 L444.46,173.38 L446.12,172.90 L447.75,172.37 L449.36,171.79 L450.95,171.16 L452.51,170.48 L454.05,169.74 L455.56,168.95 L457.04,168.11 L458.49,167.22 L459.92,166.27 L461.31,165.28 L462.68,164.24 L464.02,163.15 L465.32,162.01 L466.60,160.82 L467.85,159.58 L469.06,158.30 L470.25,156.97 L471.40,155.59 L472.52,154.17 L473.60,152.73 L475.33,150.34 L477.04,147.97 L478.76,145.60 L480.47,143.23 L482.18,140.87 L483.89,138.50 L485.60,136.13 L487.31,133.76 L489.02,131.40 L490.73,129.03 L492.44,126.66 L494.15,124.29 L495.86,121.92 L497.57,119.55 L499.29,117.19 L501.00,114.82 L502.71,112.45 L504.42,110.08 L506.13,107.71 L507.84,105.34 L509.55,102.98 L511.26,100.61 L512.97,98.24 L514.68,95.87 L516.39,93.50 L518.10,91.13 L519.81,88.77 L521.52,86.40 L523.23,84.03 L524.92,81.69 L525.79,80.53 L526.65,79.45 L527.53,78.41 L528.43,77.41 L529.33,76.46 L530.26,75.56 L531.20,74.69 L532.15,73.87 L533.12,73.08 L534.10,72.34 L535.10,71.64 L536.11,70.97 L537.14,70.35 L538.19,69.76 L539.25,69.22 L540.33,68.70 L541.43,68.23 L542.55,67.79 L543.68,67.39 L544.84,67.02 L546.02,66.69 L547.22,66.40 L548.45,66.15 L549.70,65.94 L550.97,65.76 L552.27,65.61 L553.59,65.51 L554.93,65.44 L556.30,65.41 L557.73,65.42 L560.86,65.48 L564.03,65.53 L567.19,65.55 L570.35,65.55 L573.52,65.55 L576.68,65.55 L579.84,65.55 L583.01,65.55 L586.17,65.55 L589.33,65.55 L592.50,65.55 L595.66,65.55 L598.82,65.55 L601.99,65.55 L605.15,65.55 L608.31,65.55 L611.48,65.55 L614.64,65.55 L617.80,65.55 L620.97,65.55 L624.13,65.55 L627.29,65.55 L630.46,65.55 L633.62,65.55 L636.78,65.55 L639.95,65.55 L643.11,65.55 L646.27,65.55 L649.44,65.55 L652.60,65.55 L652.60,51.25 L649.44,51.25 L646.27,51.25 L643.11,51.25 L639.95,51.25 L636.78,51.25 L633.62,51.25 L630.46,51.25 L627.29,51.25 L624.13,51.25 L620.97,51.25 L617.80,51.25 L614.64,51.25 L611.48,51.25 L608.31,51.25 L605.15,51.25 L601.99,51.25 L598.82,51.25 L595.66,51.25 L592.50,51.25 L589.33,51.25 L586.17,51.25 L583.01,51.25 L579.84,51.25 L576.68,51.25 L573.52,51.25 L570.35,51.25 L567.19,51.25 L564.03,51.27 L560.86,51.32 L557.67,51.38 L555.92,51.43 L554.16,51.53 L552.41,51.68 L550.69,51.88 L548.99,52.13 L547.30,52.42 L545.64,52.77 L544.00,53.17 L542.38,53.62 L540.78,54.11 L539.21,54.65 L537.65,55.25 L536.13,55.89 L534.63,56.59 L533.15,57.33 L531.70,58.13 L530.28,58.97 L528.89,59.87 L527.52,60.81 L526.19,61.79 L524.88,62.83 L523.61,63.91 L522.36,65.03 L521.14,66.20 L519.95,67.42 L518.80,68.68 L517.67,69.98 L516.57,71.33 L515.50,72.71 L514.48,74.11 L512.76,76.52 L511.07,78.90 L509.37,81.27 L507.68,83.65 L505.98,86.03 L504.28,88.41 L502.59,90.79 L500.89,93.17 L499.19,95.54 L497.50,97.92 L495.80,100.30 L494.10,102.68 L492.41,105.06 L490.71,107.44 L489.01,109.81 L487.32,112.19 L485.62,114.57 L483.93,116.95 L482.23,119.33 L480.53,121.71 L478.84,124.08 L477.14,126.46 L475.44,128.84 L473.75,131.22 L472.05,133.60 L470.36,135.98 L468.66,138.36 L466.97,140.74 L465.27,143.12 L463.60,145.47 L462.71,146.69 L461.81,147.84 L460.90,148.95 L459.97,150.01 L459.02,151.02 L458.06,152.00 L457.07,152.93 L456.07,153.82 L455.06,154.67 L454.02,155.47 L452.97,156.24 L451.89,156.97 L450.80,157.65 L449.69,158.30 L448.55,158.91 L447.40,159.48 L446.22,160.02 L445.02,160.51 L443.80,160.97 L442.55,161.39 L441.27,161.77 L439.97,162.11 L438.65,162.42 L437.30,162.68 L435.92,162.90 L434.51,163.09 L433.07,163.23 L431.61,163.34 L430.12,163.40 L428.57,163.43 L426.31,163.43 L424.03,163.44 L421.74,163.45 L419.45,163.45 L417.17,163.46 L414.88,163.46 L412.59,163.47 L410.31,163.47 L408.02,163.48 L405.73,163.49 L403.45,163.49 L401.16,163.50 L398.87,163.50 L396.59,163.49 L394.30,163.49 L392.01,163.48 L389.73,163.48 L387.44,163.47 L385.15,163.47 L382.87,163.47 L380.58,163.46 L378.29,163.46 L376.01,163.45 L373.72,163.45 L371.43,163.44 L369.15,163.44 L366.86,163.43 L364.57,163.43 L362.29,163.42 L360.04,163.42 L356.68,163.38 L353.45,163.27 L350.33,163.09 L347.30,162.85 L344.36,162.54 L341.51,162.18 L338.73,161.75 L336.04,161.27 L333.42,160.73 L330.88,160.14 L328.40,159.49 L325.98,158.80 L323.62,158.05 L321.31,157.26 L319.05,156.41 L316.84,155.53 L314.68,154.59 L312.55,153.62 L310.45,152.60 L308.39,151.53 L306.35,150.43 L304.33,149.29 L302.33,148.11 L300.35,146.89 L298.38,145.63 L296.43,144.34 L294.47,143.02 L292.52,141.66 L290.57,140.27 L288.57,138.82 L287.05,137.73 L285.55,136.67 L284.05,135.60 L282.55,134.54 L281.05,133.47 L279.56,132.40 L278.06,131.34 L276.56,130.27 L275.06,129.21 L273.56,128.14 L272.06,127.08 L270.57,126.01 L269.07,124.94 L267.57,123.88 L266.07,122.81 L264.57,121.75 L263.07,120.68 L261.58,119.62 L260.08,118.55 L258.58,117.48 L257.08,116.42 L255.58,115.35 L254.09,114.29 L252.59,113.21 L251.10,112.14 L249.61,111.06 L248.12,109.99 L246.63,108.91 L245.14,107.83 L243.64,106.76 L242.72,106.10 L241.80,105.44 L240.87,104.81 L239.95,104.19 L239.03,103.58 L238.10,102.99 L237.16,102.42 L236.22,101.86 L235.27,101.32 L234.30,100.80 L233.33,100.30 L232.34,99.82 L231.33,99.36 L230.31,98.92 L229.27,98.50 L228.22,98.11 L227.14,97.74 L226.05,97.39 L224.93,97.07 L223.80,96.78 L222.64,96.51 L221.46,96.26 L220.26,96.04 L219.03,95.85 L217.78,95.68 L216.50,95.53 L215.20,95.41 L213.86,95.32 L212.50,95.25 L211.16,95.20 Z" fill="#f6f6f6"/>
<path d="M210.88,106.60 L212.12,106.62 L213.27,106.65 L214.39,106.71 L215.46,106.78 L216.50,106.88 L217.50,107.00 L218.47,107.13 L219.41,107.28 L220.32,107.45 L221.21,107.64 L222.08,107.85 L222.92,108.07 L223.75,108.32 L224.56,108.58 L225.36,108.86 L226.15,109.16 L226.94,109.48 L227.71,109.82 L228.49,110.18 L229.26,110.56 L230.04,110.96 L230.82,111.38 L231.60,111.83 L232.40,112.30 L233.20,112.78 L234.01,113.30 L234.83,113.83 L235.67,114.39 L236.52,114.97 L237.40,115.58 L238.90,116.62 L240.41,117.67 L241.92,118.73 L243.43,119.78 L244.94,120.83 L246.45,121.88 L247.96,122.93 L249.46,123.99 L250.96,125.05 L252.46,126.11 L253.96,127.18 L255.46,128.24 L256.97,129.30 L258.47,130.36 L259.97,131.42 L261.47,132.48 L262.97,133.54 L264.48,134.60 L265.98,135.66 L267.48,136.72 L268.98,137.78 L270.48,138.85 L271.98,139.91 L273.49,140.97 L274.99,142.03 L276.49,143.09 L277.99,144.15 L279.49,145.21 L280.99,146.27 L282.48,147.32 L284.48,148.76 L286.52,150.21 L288.58,151.63 L290.64,153.02 L292.73,154.39 L294.84,155.72 L296.97,157.02 L299.14,158.29 L301.33,159.53 L303.56,160.72 L305.83,161.88 L308.14,162.99 L310.49,164.06 L312.89,165.08 L315.34,166.06 L317.84,166.98 L320.40,167.85 L323.02,168.67 L325.70,169.43 L328.44,170.13 L331.25,170.77 L334.13,171.35 L337.08,171.87 L340.10,172.32 L343.20,172.70 L346.39,173.02 L349.66,173.27 L353.01,173.45 L356.46,173.55 L359.97,173.58 L362.29,173.58 L364.57,173.57 L366.86,173.57 L369.15,173.56 L371.43,173.56 L373.72,173.55 L376.01,173.55 L378.29,173.54 L380.58,173.54 L382.87,173.53 L385.15,173.53 L387.44,173.53 L389.73,173.52 L392.01,173.52 L394.30,173.51 L396.59,173.51 L398.87,173.50 L401.16,173.50 L403.45,173.51 L405.73,173.51 L408.02,173.52 L410.31,173.53 L412.59,173.53 L414.88,173.54 L417.17,173.54 L419.45,173.55 L421.74,173.55 L424.03,173.56 L426.31,173.57 L428.62,173.57 L430.39,173.55 L432.17,173.48 L433.92,173.37 L435.65,173.20 L437.36,172.99 L439.05,172.72 L440.72,172.41 L442.36,172.05 L443.99,171.64 L445.59,171.18 L447.16,170.67 L448.72,170.11 L450.25,169.50 L451.75,168.84 L453.23,168.13 L454.69,167.37 L456.12,166.56 L457.52,165.70 L458.89,164.79 L460.24,163.84 L461.56,162.83 L462.85,161.78 L464.11,160.67 L465.35,159.52 L466.55,158.33 L467.73,157.09 L468.88,155.80 L470.00,154.46 L471.09,153.08 L472.14,151.67 L473.87,149.29 L475.58,146.92 L477.29,144.55 L479.01,142.18 L480.72,139.82 L482.43,137.45 L484.14,135.08 L485.85,132.71 L487.56,130.35 L489.27,127.98 L490.98,125.61 L492.69,123.24 L494.40,120.87 L496.11,118.50 L497.82,116.14 L499.53,113.77 L501.24,111.40 L502.95,109.03 L504.66,106.66 L506.37,104.29 L508.08,101.93 L509.79,99.56 L511.50,97.19 L513.22,94.82 L514.93,92.45 L516.64,90.08 L518.35,87.72 L520.06,85.35 L521.77,82.98 L523.46,80.63 L524.35,79.44 L525.25,78.32 L526.16,77.24 L527.09,76.21 L528.04,75.21 L529.00,74.27 L529.98,73.36 L530.98,72.50 L531.99,71.68 L533.02,70.90 L534.07,70.16 L535.13,69.47 L536.21,68.81 L537.31,68.19 L538.43,67.61 L539.56,67.08 L540.72,66.58 L541.89,66.11 L543.09,65.69 L544.30,65.31 L545.54,64.96 L546.80,64.65 L548.08,64.39 L549.38,64.16 L550.71,63.98 L552.06,63.83 L553.43,63.72 L554.83,63.65 L556.25,63.61 L557.72,63.62 L560.86,63.68 L564.03,63.73 L567.19,63.75 L570.35,63.75 L573.52,63.75 L576.68,63.75 L579.84,63.75 L583.01,63.75 L586.17,63.75 L589.33,63.75 L592.50,63.75 L595.66,63.75 L598.82,63.75 L601.99,63.75 L605.15,63.75 L608.31,63.75 L611.48,63.75 L614.64,63.75 L617.80,63.75 L620.97,63.75 L624.13,63.75 L627.29,63.75 L630.46,63.75 L633.62,63.75 L636.78,63.75 L639.95,63.75 L643.11,63.75 L646.27,63.75 L649.44,63.75 L652.60,63.75 L652.60,53.05 L649.44,53.05 L646.27,53.05 L643.11,53.05 L639.95,53.05 L636.78,53.05 L633.62,53.05 L630.46,53.05 L627.29,53.05 L624.13,53.05 L620.97,53.05 L617.80,53.05 L614.64,53.05 L611.48,53.05 L608.31,53.05 L605.15,53.05 L601.99,53.05 L598.82,53.05 L595.66,53.05 L592.50,53.05 L589.33,53.05 L586.17,53.05 L583.01,53.05 L579.84,53.05 L576.68,53.05 L573.52,53.05 L570.35,53.05 L567.19,53.05 L564.03,53.07 L560.86,53.12 L557.68,53.18 L555.97,53.23 L554.26,53.33 L552.57,53.47 L550.90,53.67 L549.25,53.91 L547.62,54.20 L546.01,54.53 L544.42,54.92 L542.86,55.35 L541.32,55.83 L539.80,56.35 L538.31,56.93 L536.84,57.55 L535.39,58.22 L533.97,58.94 L532.58,59.70 L531.21,60.51 L529.87,61.37 L528.56,62.28 L527.27,63.23 L526.01,64.23 L524.78,65.27 L523.57,66.36 L522.40,67.49 L521.25,68.67 L520.13,69.89 L519.04,71.15 L517.97,72.45 L516.94,73.80 L515.94,75.17 L514.23,77.57 L512.53,79.95 L510.83,82.32 L509.14,84.70 L507.44,87.08 L505.74,89.46 L504.05,91.84 L502.35,94.22 L500.66,96.59 L498.96,98.97 L497.26,101.35 L495.57,103.73 L493.87,106.11 L492.17,108.49 L490.48,110.86 L488.78,113.24 L487.08,115.62 L485.39,118.00 L483.69,120.38 L482.00,122.76 L480.30,125.13 L478.60,127.51 L476.91,129.89 L475.21,132.27 L473.52,134.65 L471.82,137.03 L470.13,139.41 L468.43,141.79 L466.74,144.17 L465.06,146.53 L464.14,147.78 L463.21,148.97 L462.26,150.12 L461.30,151.22 L460.31,152.28 L459.31,153.29 L458.28,154.26 L457.24,155.19 L456.18,156.08 L455.09,156.92 L453.99,157.72 L452.87,158.48 L451.72,159.20 L450.56,159.88 L449.37,160.52 L448.16,161.11 L446.92,161.67 L445.67,162.19 L444.39,162.67 L443.08,163.11 L441.75,163.51 L440.40,163.86 L439.01,164.18 L437.61,164.45 L436.17,164.69 L434.71,164.88 L433.22,165.03 L431.71,165.14 L430.17,165.20 L428.58,165.23 L426.31,165.23 L424.03,165.24 L421.74,165.25 L419.45,165.25 L417.17,165.26 L414.88,165.26 L412.59,165.27 L410.31,165.27 L408.02,165.28 L405.73,165.29 L403.45,165.29 L401.16,165.30 L398.87,165.30 L396.59,165.29 L394.30,165.29 L392.01,165.28 L389.73,165.28 L387.44,165.27 L385.15,165.27 L382.87,165.27 L380.58,165.26 L378.29,165.26 L376.01,165.25 L373.72,165.25 L371.43,165.24 L369.15,165.24 L366.86,165.23 L364.57,165.23 L362.29,165.22 L360.03,165.22 L356.64,165.18 L353.38,165.07 L350.21,164.89 L347.14,164.64 L344.16,164.33 L341.26,163.96 L338.44,163.53 L335.71,163.04 L333.04,162.49 L330.45,161.89 L327.92,161.23 L325.46,160.52 L323.06,159.76 L320.71,158.95 L318.41,158.09 L316.16,157.19 L313.95,156.24 L311.78,155.25 L309.65,154.21 L307.55,153.13 L305.48,152.01 L303.43,150.85 L301.41,149.65 L299.40,148.42 L297.41,147.15 L295.43,145.84 L293.45,144.50 L291.49,143.13 L289.52,141.73 L287.52,140.28 L286.01,139.20 L284.51,138.14 L283.01,137.07 L281.51,136.00 L280.01,134.94 L278.51,133.87 L277.02,132.81 L275.52,131.74 L274.02,130.68 L272.52,129.61 L271.02,128.54 L269.52,127.48 L268.03,126.41 L266.53,125.35 L265.03,124.28 L263.53,123.22 L262.03,122.15 L260.54,121.08 L259.04,120.02 L257.54,118.95 L256.04,117.89 L254.54,116.82 L253.04,115.75 L251.55,114.68 L250.06,113.61 L248.57,112.53 L247.08,111.45 L245.59,110.38 L244.10,109.30 L242.60,108.22 L241.69,107.57 L240.78,106.93 L239.87,106.30 L238.97,105.69 L238.06,105.10 L237.16,104.53 L236.25,103.97 L235.33,103.43 L234.41,102.91 L233.48,102.40 L232.54,101.92 L231.58,101.45 L230.62,101.01 L229.63,100.59 L228.64,100.19 L227.62,99.81 L226.59,99.45 L225.54,99.12 L224.47,98.81 L223.38,98.53 L222.27,98.27 L221.13,98.03 L219.97,97.82 L218.79,97.63 L217.58,97.47 L216.34,97.33 L215.07,97.21 L213.77,97.12 L212.44,97.05 L211.12,97.00 Z" fill="#060608"/>
<path d="M210.90,105.80 L212.15,105.82 L213.32,105.85 L214.44,105.91 L215.53,105.99 L216.59,106.09 L217.61,106.20 L218.60,106.34 L219.56,106.50 L220.49,106.67 L221.40,106.86 L222.28,107.08 L223.15,107.31 L223.99,107.56 L224.83,107.83 L225.64,108.11 L226.45,108.42 L227.25,108.75 L228.05,109.09 L228.84,109.46 L229.63,109.85 L230.42,110.26 L231.21,110.69 L232.01,111.14 L232.81,111.61 L233.62,112.11 L234.44,112.63 L235.28,113.17 L236.12,113.73 L236.98,114.31 L237.86,114.92 L239.37,115.97 L240.88,117.02 L242.39,118.07 L243.89,119.12 L245.40,120.17 L246.91,121.23 L248.42,122.28 L249.92,123.34 L251.42,124.40 L252.92,125.46 L254.43,126.52 L255.93,127.58 L257.43,128.64 L258.93,129.71 L260.43,130.77 L261.93,131.83 L263.44,132.89 L264.94,133.95 L266.44,135.01 L267.94,136.07 L269.44,137.13 L270.94,138.19 L272.45,139.25 L273.95,140.31 L275.45,141.38 L276.95,142.44 L278.45,143.50 L279.96,144.56 L281.46,145.62 L282.94,146.67 L284.95,148.11 L286.98,149.55 L289.03,150.97 L291.09,152.35 L293.17,153.71 L295.26,155.04 L297.39,156.34 L299.54,157.60 L301.72,158.83 L303.93,160.02 L306.19,161.16 L308.48,162.27 L310.82,163.33 L313.20,164.34 L315.63,165.31 L318.11,166.23 L320.65,167.09 L323.25,167.90 L325.91,168.65 L328.63,169.35 L331.42,169.99 L334.27,170.56 L337.21,171.08 L340.21,171.53 L343.30,171.91 L346.46,172.22 L349.71,172.47 L353.05,172.65 L356.48,172.75 L359.98,172.78 L362.29,172.78 L364.57,172.77 L366.86,172.77 L369.15,172.76 L371.43,172.76 L373.72,172.75 L376.01,172.75 L378.29,172.74 L380.58,172.74 L382.87,172.73 L385.15,172.73 L387.44,172.73 L389.73,172.72 L392.01,172.72 L394.30,172.71 L396.59,172.71 L398.87,172.70 L401.16,172.70 L403.45,172.71 L405.73,172.71 L408.02,172.72 L410.31,172.73 L412.59,172.73 L414.88,172.74 L417.17,172.74 L419.45,172.75 L421.74,172.75 L424.03,172.76 L426.31,172.77 L428.62,172.77 L430.37,172.75 L432.12,172.68 L433.85,172.57 L435.56,172.41 L437.25,172.19 L438.91,171.93 L440.55,171.62 L442.18,171.27 L443.77,170.87 L445.35,170.42 L446.90,169.92 L448.43,169.37 L449.93,168.77 L451.42,168.12 L452.87,167.42 L454.30,166.67 L455.71,165.88 L457.08,165.03 L458.44,164.14 L459.76,163.19 L461.06,162.20 L462.33,161.17 L463.57,160.08 L464.79,158.95 L465.98,157.77 L467.14,156.55 L468.27,155.28 L469.38,153.96 L470.46,152.60 L471.50,151.20 L473.22,148.82 L474.93,146.45 L476.64,144.09 L478.36,141.72 L480.07,139.35 L481.78,136.98 L483.49,134.62 L485.20,132.25 L486.91,129.88 L488.62,127.51 L490.33,125.14 L492.04,122.77 L493.75,120.41 L495.46,118.04 L497.17,115.67 L498.88,113.30 L500.59,110.93 L502.30,108.56 L504.01,106.20 L505.72,103.83 L507.43,101.46 L509.14,99.09 L510.85,96.72 L512.57,94.35 L514.28,91.99 L515.99,89.62 L517.70,87.25 L519.41,84.88 L521.12,82.51 L522.82,80.16 L523.72,78.96 L524.63,77.82 L525.55,76.72 L526.50,75.67 L527.46,74.66 L528.44,73.69 L529.44,72.77 L530.46,71.89 L531.49,71.06 L532.54,70.26 L533.61,69.51 L534.69,68.79 L535.80,68.12 L536.92,67.49 L538.06,66.90 L539.22,66.35 L540.40,65.84 L541.60,65.37 L542.82,64.94 L544.06,64.54 L545.32,64.19 L546.61,63.88 L547.91,63.61 L549.24,63.38 L550.60,63.18 L551.97,63.03 L553.37,62.92 L554.79,62.85 L556.23,62.81 L557.72,62.82 L560.86,62.88 L564.03,62.93 L567.19,62.95 L570.35,62.95 L573.52,62.95 L576.68,62.95 L579.84,62.95 L583.01,62.95 L586.17,62.95 L589.33,62.95 L592.50,62.95 L595.66,62.95 L598.82,62.95 L601.99,62.95 L605.15,62.95 L608.31,62.95 L611.48,62.95 L614.64,62.95 L617.80,62.95 L620.97,62.95 L624.13,62.95 L627.29,62.95 L630.46,62.95 L633.62,62.95 L636.78,62.95 L639.95,62.95 L643.11,62.95 L646.27,62.95 L649.44,62.95 L652.60,62.95 L652.60,53.85 L649.44,53.85 L646.27,53.85 L643.11,53.85 L639.95,53.85 L636.78,53.85 L633.62,53.85 L630.46,53.85 L627.29,53.85 L624.13,53.85 L620.97,53.85 L617.80,53.85 L614.64,53.85 L611.48,53.85 L608.31,53.85 L605.15,53.85 L601.99,53.85 L598.82,53.85 L595.66,53.85 L592.50,53.85 L589.33,53.85 L586.17,53.85 L583.01,53.85 L579.84,53.85 L576.68,53.85 L573.52,53.85 L570.35,53.85 L567.19,53.85 L564.03,53.87 L560.86,53.92 L557.68,53.98 L555.99,54.03 L554.30,54.13 L552.63,54.27 L550.99,54.46 L549.36,54.70 L547.76,54.98 L546.17,55.32 L544.61,55.70 L543.08,56.12 L541.56,56.59 L540.07,57.11 L538.60,57.67 L537.15,58.28 L535.73,58.94 L534.34,59.65 L532.97,60.40 L531.62,61.20 L530.31,62.05 L529.01,62.94 L527.75,63.87 L526.51,64.85 L525.30,65.88 L524.11,66.95 L522.96,68.07 L521.83,69.22 L520.72,70.43 L519.65,71.67 L518.60,72.96 L517.57,74.29 L516.58,75.64 L514.88,78.03 L513.18,80.41 L511.48,82.79 L509.79,85.17 L508.09,87.55 L506.39,89.93 L504.70,92.30 L503.00,94.68 L501.31,97.06 L499.61,99.44 L497.91,101.82 L496.22,104.20 L494.52,106.57 L492.82,108.95 L491.13,111.33 L489.43,113.71 L487.73,116.09 L486.04,118.47 L484.34,120.84 L482.65,123.22 L480.95,125.60 L479.25,127.98 L477.56,130.36 L475.86,132.74 L474.17,135.12 L472.47,137.50 L470.78,139.87 L469.08,142.25 L467.39,144.63 L465.70,147.00 L464.77,148.26 L463.83,149.47 L462.87,150.64 L461.89,151.76 L460.89,152.83 L459.86,153.87 L458.82,154.85 L457.76,155.80 L456.68,156.70 L455.57,157.56 L454.45,158.38 L453.30,159.15 L452.13,159.89 L450.94,160.58 L449.73,161.23 L448.49,161.84 L447.24,162.41 L445.95,162.94 L444.65,163.42 L443.32,163.87 L441.96,164.28 L440.58,164.64 L439.18,164.97 L437.74,165.24 L436.29,165.48 L434.80,165.67 L433.29,165.82 L431.75,165.94 L430.19,166.00 L428.58,166.03 L426.31,166.03 L424.03,166.04 L421.74,166.05 L419.45,166.05 L417.17,166.06 L414.88,166.06 L412.59,166.07 L410.31,166.07 L408.02,166.08 L405.73,166.09 L403.45,166.09 L401.16,166.10 L398.87,166.10 L396.59,166.09 L394.30,166.09 L392.01,166.08 L389.73,166.08 L387.44,166.07 L385.15,166.07 L382.87,166.07 L380.58,166.06 L378.29,166.06 L376.01,166.05 L373.72,166.05 L371.43,166.04 L369.15,166.04 L366.86,166.03 L364.57,166.03 L362.29,166.02 L360.02,166.02 L356.62,165.98 L353.34,165.87 L350.16,165.68 L347.07,165.44 L344.07,165.13 L341.15,164.75 L338.31,164.32 L335.56,163.82 L332.87,163.27 L330.26,162.66 L327.71,162.00 L325.23,161.29 L322.81,160.52 L320.44,159.70 L318.12,158.84 L315.85,157.93 L313.63,156.97 L311.44,155.97 L309.29,154.92 L307.18,153.84 L305.09,152.71 L303.03,151.54 L300.99,150.34 L298.98,149.09 L296.97,147.82 L294.98,146.51 L293.00,145.16 L291.03,143.79 L289.05,142.38 L287.06,140.93 L285.54,139.85 L284.04,138.79 L282.55,137.72 L281.05,136.66 L279.55,135.59 L278.05,134.53 L276.55,133.46 L275.06,132.39 L273.56,131.33 L272.06,130.26 L270.56,129.20 L269.06,128.13 L267.56,127.07 L266.07,126.00 L264.57,124.93 L263.07,123.87 L261.57,122.80 L260.07,121.74 L258.57,120.67 L257.08,119.60 L255.58,118.54 L254.08,117.47 L252.58,116.41 L251.09,115.33 L249.60,114.26 L248.11,113.18 L246.61,112.11 L245.12,111.03 L243.63,109.96 L242.14,108.88 L241.23,108.23 L240.33,107.59 L239.43,106.97 L238.53,106.36 L237.64,105.78 L236.74,105.21 L235.84,104.66 L234.94,104.12 L234.03,103.61 L233.11,103.11 L232.18,102.64 L231.25,102.18 L230.30,101.74 L229.33,101.33 L228.36,100.94 L227.36,100.57 L226.35,100.22 L225.32,99.89 L224.27,99.59 L223.20,99.31 L222.10,99.05 L220.99,98.82 L219.85,98.61 L218.68,98.42 L217.49,98.26 L216.26,98.12 L215.01,98.01 L213.73,97.92 L212.41,97.85 L211.10,97.80 Z" fill="#1c1b20"/>
<path d="M651.5,53.3 C654.5,53.5 655.8,55 656.3,57 L657.5,63.7 L651.5,63.7 Z" fill="#060608"/>
<path d="M417.91,498.50 L418.81,498.52 L419.59,498.57 L420.35,498.64 L421.08,498.75 L421.79,498.88 L422.48,499.03 L423.14,499.22 L423.78,499.42 L424.41,499.66 L425.02,499.91 L425.61,500.20 L426.19,500.51 L426.75,500.84 L427.31,501.21 L427.85,501.60 L428.38,502.03 L428.91,502.48 L429.42,502.97 L429.93,503.49 L430.43,504.04 L430.93,504.63 L431.41,505.25 L431.89,505.92 L432.36,506.61 L432.82,507.35 L433.27,508.12 L433.71,508.94 L434.14,509.79 L434.56,510.68 L434.74,510.94 L435.45,514.25 L436.31,517.74 L437.25,521.12 L438.28,524.38 L439.38,527.52 L440.55,530.55 L441.80,533.46 L443.13,536.25 L444.53,538.93 L446.01,541.49 L447.57,543.93 L449.20,546.26 L450.90,548.46 L452.69,550.55 L454.54,552.52 L456.48,554.36 L458.48,556.09 L460.55,557.68 L462.70,559.15 L464.91,560.49 L467.18,561.71 L469.52,562.79 L471.91,563.74 L474.35,564.56 L476.85,565.26 L479.39,565.82 L481.98,566.26 L484.61,566.57 L487.29,566.76 L490.26,566.82 L492.85,566.46 L495.16,565.86 L497.39,565.03 L499.54,564.02 L501.61,562.84 L503.61,561.51 L505.53,560.05 L507.39,558.48 L509.18,556.81 L510.92,555.06 L512.59,553.23 L514.20,551.35 L515.75,549.42 L517.24,547.45 L518.67,545.47 L520.04,543.47 L521.33,541.48 L522.56,539.50 L523.72,537.56 L524.81,535.65 L525.82,533.80 L526.75,532.01 L527.60,530.30 L528.37,528.67 L529.05,527.14 L529.65,525.72 L530.16,524.40 L530.59,523.17 L530.92,522.03 L531.10,521.23 L531.59,519.25 L532.10,517.21 L532.62,515.13 L533.16,513.02 L533.70,510.86 L534.25,508.67 L534.80,506.44 L535.36,504.17 L535.91,501.87 L536.47,499.53 L537.01,497.15 L537.56,494.73 L538.09,492.28 L538.61,489.79 L539.11,487.26 L539.61,484.70 L540.08,482.10 L540.53,479.46 L540.96,476.79 L541.36,474.08 L541.74,471.33 L542.08,468.55 L542.40,465.73 L542.67,462.88 L542.92,459.99 L543.12,457.06 L543.28,454.10 L543.40,451.10 L543.48,448.07 L543.50,445.01 L543.50,439.12 L543.50,433.23 L543.50,427.35 L543.50,421.47 L543.50,415.58 L543.50,409.70 L543.50,403.82 L543.50,397.93 L543.50,392.05 L543.50,386.17 L543.50,380.28 L543.50,374.40 L543.50,368.52 L543.50,362.63 L543.50,356.75 L543.50,350.87 L543.50,344.98 L543.50,339.10 L543.50,333.22 L543.50,327.33 L543.50,321.45 L543.50,315.57 L543.50,309.68 L543.50,303.80 L543.50,297.92 L543.50,292.03 L543.50,286.15 L543.50,280.27 L543.50,274.38 L543.50,268.50 L533.00,268.50 L533.00,274.38 L533.00,280.27 L533.00,286.15 L533.00,292.03 L533.00,297.92 L533.00,303.80 L533.00,309.68 L533.00,315.57 L533.00,321.45 L533.00,327.33 L533.00,333.22 L533.00,339.10 L533.00,344.98 L533.00,350.87 L533.00,356.75 L533.00,362.63 L533.00,368.52 L533.00,374.40 L533.00,380.28 L533.00,386.17 L533.00,392.05 L533.00,397.93 L533.00,403.82 L533.00,409.70 L533.00,415.58 L533.00,421.47 L533.00,427.35 L533.00,433.23 L533.00,439.12 L533.00,444.99 L532.98,447.90 L532.91,450.77 L532.80,453.60 L532.64,456.41 L532.45,459.18 L532.22,461.92 L531.95,464.64 L531.65,467.32 L531.32,469.97 L530.97,472.59 L530.58,475.18 L530.17,477.74 L529.74,480.27 L529.28,482.77 L528.81,485.24 L528.32,487.68 L527.82,490.09 L527.30,492.47 L526.78,494.82 L526.24,497.14 L525.70,499.43 L525.16,501.69 L524.61,503.93 L524.06,506.13 L523.52,508.30 L522.98,510.45 L522.44,512.57 L521.92,514.66 L521.40,516.72 L520.90,518.77 L520.77,519.36 L520.60,519.94 L520.31,520.76 L519.91,521.78 L519.42,522.97 L518.83,524.28 L518.15,525.71 L517.39,527.25 L516.55,528.86 L515.64,530.54 L514.65,532.27 L513.60,534.04 L512.48,535.84 L511.31,537.64 L510.08,539.43 L508.80,541.21 L507.48,542.95 L506.12,544.64 L504.73,546.27 L503.31,547.82 L501.87,549.28 L500.42,550.63 L498.96,551.86 L497.51,552.96 L496.08,553.92 L494.68,554.73 L493.32,555.38 L492.00,555.88 L490.75,556.21 L489.74,556.38 L487.76,556.33 L485.57,556.18 L483.45,555.94 L481.37,555.60 L479.35,555.15 L477.39,554.62 L475.47,553.98 L473.61,553.25 L471.79,552.41 L470.03,551.48 L468.30,550.44 L466.63,549.30 L464.99,548.05 L463.40,546.70 L461.86,545.23 L460.35,543.65 L458.89,541.95 L457.48,540.14 L456.11,538.20 L454.79,536.14 L453.52,533.96 L452.30,531.65 L451.13,529.22 L450.02,526.66 L448.96,523.97 L447.96,521.15 L447.02,518.20 L446.13,515.12 L445.30,511.91 L444.46,508.26 L443.70,506.44 L443.15,505.31 L442.58,504.21 L441.99,503.15 L441.38,502.12 L440.74,501.12 L440.07,500.15 L439.38,499.21 L438.67,498.31 L437.92,497.44 L437.15,496.61 L436.36,495.81 L435.53,495.05 L434.68,494.33 L433.80,493.65 L432.90,493.01 L431.97,492.41 L431.01,491.85 L430.03,491.34 L429.03,490.87 L428.00,490.45 L426.96,490.07 L425.89,489.74 L424.81,489.46 L423.71,489.22 L422.60,489.03 L421.47,488.88 L420.33,488.78 L419.17,488.72 L418.09,488.70 Z" fill="#f6f6f6"/>
<path d="M417.94,496.80 L418.87,496.82 L419.72,496.87 L420.54,496.96 L421.35,497.07 L422.12,497.21 L422.88,497.38 L423.62,497.58 L424.33,497.81 L425.03,498.07 L425.71,498.36 L426.37,498.68 L427.01,499.02 L427.65,499.40 L428.26,499.80 L428.87,500.24 L429.46,500.71 L430.04,501.21 L430.61,501.75 L431.16,502.31 L431.71,502.92 L432.24,503.55 L432.77,504.23 L433.28,504.94 L433.78,505.68 L434.27,506.46 L434.75,507.28 L435.21,508.14 L435.66,509.03 L436.10,509.96 L436.38,510.49 L437.10,513.85 L437.96,517.30 L438.88,520.63 L439.89,523.84 L440.97,526.93 L442.12,529.90 L443.35,532.75 L444.65,535.49 L446.02,538.10 L447.46,540.60 L448.98,542.98 L450.56,545.25 L452.22,547.39 L453.95,549.41 L455.75,551.32 L457.62,553.10 L459.55,554.77 L461.55,556.31 L463.62,557.72 L465.75,559.01 L467.94,560.18 L470.19,561.23 L472.49,562.14 L474.85,562.94 L477.26,563.61 L479.71,564.15 L482.22,564.58 L484.77,564.88 L487.36,565.06 L490.17,565.12 L492.50,564.79 L494.65,564.24 L496.73,563.47 L498.75,562.51 L500.72,561.39 L502.62,560.12 L504.47,558.72 L506.26,557.21 L508.00,555.59 L509.68,553.88 L511.32,552.10 L512.89,550.26 L514.41,548.37 L515.88,546.44 L517.28,544.49 L518.62,542.53 L519.90,540.57 L521.11,538.62 L522.25,536.70 L523.32,534.82 L524.32,533.00 L525.23,531.24 L526.07,529.56 L526.82,527.96 L527.49,526.47 L528.07,525.08 L528.57,523.81 L528.97,522.65 L529.28,521.59 L529.45,520.83 L529.94,518.84 L530.45,516.80 L530.98,514.72 L531.51,512.60 L532.05,510.45 L532.60,508.26 L533.15,506.03 L533.71,503.77 L534.26,501.47 L534.81,499.14 L535.36,496.77 L535.90,494.36 L536.42,491.92 L536.94,489.45 L537.45,486.93 L537.93,484.38 L538.40,481.80 L538.85,479.18 L539.28,476.53 L539.68,473.84 L540.05,471.11 L540.39,468.35 L540.70,465.55 L540.98,462.72 L541.22,459.85 L541.42,456.95 L541.59,454.02 L541.70,451.05 L541.78,448.04 L541.80,445.01 L541.80,439.12 L541.80,433.23 L541.80,427.35 L541.80,421.47 L541.80,415.58 L541.80,409.70 L541.80,403.82 L541.80,397.93 L541.80,392.05 L541.80,386.17 L541.80,380.28 L541.80,374.40 L541.80,368.52 L541.80,362.63 L541.80,356.75 L541.80,350.87 L541.80,344.98 L541.80,339.10 L541.80,333.22 L541.80,327.33 L541.80,321.45 L541.80,315.57 L541.80,309.68 L541.80,303.80 L541.80,297.92 L541.80,292.03 L541.80,286.15 L541.80,280.27 L541.80,274.38 L541.80,268.50 L534.70,268.50 L534.70,274.38 L534.70,280.27 L534.70,286.15 L534.70,292.03 L534.70,297.92 L534.70,303.80 L534.70,309.68 L534.70,315.57 L534.70,321.45 L534.70,327.33 L534.70,333.22 L534.70,339.10 L534.70,344.98 L534.70,350.87 L534.70,356.75 L534.70,362.63 L534.70,368.52 L534.70,374.40 L534.70,380.28 L534.70,386.17 L534.70,392.05 L534.70,397.93 L534.70,403.82 L534.70,409.70 L534.70,415.58 L534.70,421.47 L534.70,427.35 L534.70,433.23 L534.70,439.12 L534.70,444.99 L534.68,447.93 L534.61,450.82 L534.49,453.68 L534.34,456.51 L534.14,459.31 L533.91,462.08 L533.64,464.81 L533.34,467.52 L533.01,470.19 L532.65,472.83 L532.26,475.44 L531.85,478.02 L531.41,480.57 L530.95,483.08 L530.48,485.57 L529.99,488.02 L529.48,490.44 L528.96,492.84 L528.43,495.20 L527.90,497.53 L527.35,499.83 L526.81,502.10 L526.26,504.33 L525.71,506.54 L525.17,508.72 L524.63,510.87 L524.09,512.98 L523.57,515.07 L523.05,517.13 L522.55,519.17 L522.41,519.79 L522.21,520.46 L521.90,521.35 L521.49,522.42 L520.98,523.64 L520.38,524.99 L519.68,526.46 L518.91,528.02 L518.05,529.66 L517.12,531.37 L516.12,533.13 L515.05,534.93 L513.91,536.75 L512.72,538.58 L511.47,540.41 L510.17,542.22 L508.82,544.00 L507.43,545.73 L506.00,547.40 L504.54,548.99 L503.05,550.50 L501.54,551.90 L500.02,553.19 L498.50,554.35 L496.98,555.37 L495.47,556.24 L493.98,556.95 L492.52,557.50 L491.09,557.88 L489.83,558.08 L487.68,558.03 L485.42,557.87 L483.21,557.62 L481.05,557.26 L478.94,556.80 L476.89,556.24 L474.89,555.58 L472.94,554.81 L471.04,553.93 L469.19,552.96 L467.38,551.87 L465.63,550.68 L463.92,549.37 L462.26,547.96 L460.65,546.43 L459.09,544.79 L457.57,543.03 L456.11,541.15 L454.70,539.15 L453.34,537.03 L452.03,534.78 L450.78,532.42 L449.58,529.92 L448.44,527.30 L447.36,524.56 L446.35,521.68 L445.39,518.68 L444.48,515.56 L443.65,512.30 L442.82,508.71 L442.16,507.15 L441.63,506.07 L441.08,505.01 L440.52,503.99 L439.93,503.00 L439.32,502.05 L438.68,501.13 L438.03,500.24 L437.35,499.38 L436.65,498.56 L435.92,497.78 L435.17,497.03 L434.40,496.32 L433.60,495.64 L432.78,495.01 L431.94,494.41 L431.07,493.85 L430.18,493.34 L429.27,492.86 L428.34,492.43 L427.39,492.03 L426.41,491.68 L425.42,491.37 L424.41,491.11 L423.38,490.89 L422.34,490.71 L421.28,490.57 L420.20,490.47 L419.11,490.42 L418.06,490.40 Z" fill="#060608"/>
<path d="M417.95,496.10 L418.90,496.12 L419.77,496.17 L420.62,496.26 L421.45,496.38 L422.26,496.52 L423.05,496.70 L423.81,496.91 L424.56,497.15 L425.28,497.42 L425.99,497.72 L426.68,498.05 L427.35,498.41 L428.01,498.80 L428.66,499.23 L429.29,499.68 L429.90,500.17 L430.50,500.69 L431.09,501.24 L431.67,501.83 L432.23,502.45 L432.79,503.11 L433.32,503.80 L433.85,504.53 L434.36,505.30 L434.87,506.10 L435.35,506.94 L435.83,507.81 L436.29,508.72 L436.74,509.67 L437.05,510.30 L437.79,513.69 L438.63,517.12 L439.55,520.43 L440.55,523.62 L441.63,526.69 L442.77,529.63 L443.99,532.46 L445.28,535.17 L446.63,537.76 L448.06,540.24 L449.56,542.59 L451.13,544.83 L452.77,546.95 L454.47,548.95 L456.24,550.82 L458.09,552.58 L459.99,554.22 L461.96,555.74 L464.00,557.13 L466.09,558.41 L468.25,559.56 L470.46,560.58 L472.73,561.49 L475.05,562.27 L477.42,562.93 L479.85,563.47 L482.32,563.89 L484.83,564.18 L487.40,564.36 L490.14,564.42 L492.36,564.11 L494.44,563.57 L496.46,562.82 L498.43,561.89 L500.35,560.80 L502.21,559.55 L504.03,558.18 L505.79,556.68 L507.51,555.09 L509.18,553.40 L510.79,551.64 L512.35,549.81 L513.86,547.94 L515.31,546.02 L516.71,544.09 L518.04,542.14 L519.31,540.19 L520.51,538.26 L521.65,536.35 L522.71,534.48 L523.70,532.67 L524.61,530.92 L525.44,529.25 L526.19,527.67 L526.85,526.19 L527.42,524.82 L527.91,523.57 L528.30,522.43 L528.60,521.42 L528.77,520.67 L529.26,518.67 L529.77,516.63 L530.30,514.55 L530.83,512.43 L531.37,510.28 L531.92,508.09 L532.47,505.87 L533.03,503.61 L533.58,501.31 L534.13,498.98 L534.67,496.61 L535.21,494.21 L535.74,491.78 L536.26,489.30 L536.76,486.80 L537.25,484.26 L537.71,481.68 L538.16,479.07 L538.59,476.42 L538.98,473.74 L539.36,471.02 L539.70,468.27 L540.01,465.48 L540.28,462.66 L540.52,459.80 L540.73,456.91 L540.89,453.98 L541.00,451.02 L541.08,448.03 L541.10,445.01 L541.10,439.12 L541.10,433.23 L541.10,427.35 L541.10,421.47 L541.10,415.58 L541.10,409.70 L541.10,403.82 L541.10,397.93 L541.10,392.05 L541.10,386.17 L541.10,380.28 L541.10,374.40 L541.10,368.52 L541.10,362.63 L541.10,356.75 L541.10,350.87 L541.10,344.98 L541.10,339.10 L541.10,333.22 L541.10,327.33 L541.10,321.45 L541.10,315.57 L541.10,309.68 L541.10,303.80 L541.10,297.92 L541.10,292.03 L541.10,286.15 L541.10,280.27 L541.10,274.38 L541.10,268.50 L535.40,268.50 L535.40,274.38 L535.40,280.27 L535.40,286.15 L535.40,292.03 L535.40,297.92 L535.40,303.80 L535.40,309.68 L535.40,315.57 L535.40,321.45 L535.40,327.33 L535.40,333.22 L535.40,339.10 L535.40,344.98 L535.40,350.87 L535.40,356.75 L535.40,362.63 L535.40,368.52 L535.40,374.40 L535.40,380.28 L535.40,386.17 L535.40,392.05 L535.40,397.93 L535.40,403.82 L535.40,409.70 L535.40,415.58 L535.40,421.47 L535.40,427.35 L535.40,433.23 L535.40,439.12 L535.40,444.99 L535.38,447.94 L535.31,450.84 L535.19,453.72 L535.04,456.56 L534.84,459.37 L534.61,462.14 L534.34,464.89 L534.04,467.60 L533.70,470.28 L533.34,472.93 L532.95,475.55 L532.54,478.13 L532.10,480.69 L531.64,483.21 L531.17,485.70 L530.67,488.16 L530.17,490.59 L529.65,492.99 L529.12,495.35 L528.58,497.69 L528.03,499.99 L527.49,502.26 L526.94,504.50 L526.39,506.71 L525.84,508.89 L525.30,511.04 L524.77,513.15 L524.25,515.24 L523.73,517.30 L523.23,519.33 L523.09,519.97 L522.88,520.68 L522.56,521.59 L522.14,522.68 L521.62,523.92 L521.01,525.29 L520.31,526.76 L519.53,528.33 L518.67,529.99 L517.73,531.71 L516.72,533.48 L515.65,535.29 L514.50,537.13 L513.30,538.97 L512.04,540.81 L510.73,542.64 L509.37,544.43 L507.97,546.17 L506.52,547.86 L505.05,549.47 L503.54,551.00 L502.01,552.42 L500.46,553.73 L498.91,554.92 L497.35,555.96 L495.79,556.86 L494.25,557.59 L492.73,558.16 L491.23,558.56 L489.86,558.78 L487.65,558.72 L485.35,558.57 L483.11,558.31 L480.92,557.95 L478.78,557.48 L476.69,556.91 L474.65,556.23 L472.66,555.45 L470.73,554.56 L468.84,553.56 L467.00,552.46 L465.22,551.24 L463.48,549.92 L461.79,548.48 L460.16,546.93 L458.57,545.26 L457.03,543.47 L455.55,541.56 L454.12,539.54 L452.74,537.39 L451.42,535.12 L450.15,532.73 L448.94,530.21 L447.80,527.57 L446.71,524.80 L445.68,521.91 L444.72,518.88 L443.81,515.74 L442.96,512.46 L442.15,508.90 L441.52,507.45 L441.00,506.38 L440.47,505.34 L439.91,504.34 L439.33,503.37 L438.73,502.43 L438.11,501.53 L437.47,500.66 L436.81,499.83 L436.12,499.03 L435.42,498.26 L434.69,497.53 L433.93,496.84 L433.16,496.19 L432.36,495.57 L431.54,494.99 L430.70,494.45 L429.84,493.95 L428.96,493.49 L428.05,493.06 L427.13,492.68 L426.19,492.35 L425.22,492.05 L424.24,491.79 L423.25,491.57 L422.23,491.40 L421.20,491.26 L420.15,491.17 L419.08,491.11 L418.05,491.10 Z" fill="#1c1b20"/>

<path d="M549.55,67 V61.5" stroke="#0a0a0a" stroke-width="2.6"/>
<!-- top blue arrow -->
<g fill="#0a85d0">
<path d="M651.5,55 L663,55 L663,50.7 L681.5,57.6 L663,64.5 L663,60.6 L651.5,60.6 A2.8,2.8 0 0 1 651.5,55 Z" stroke="#f8ebe0" stroke-width="1.6" stroke-linejoin="round" paint-order="stroke"/>
</g>
<!-- bottom blue hose -->
<path d="M298.5,500.7 C288,502 270,515 262.7,530 C257.8,540 252,560 251,573" fill="none" stroke="#fbe9dc" stroke-width="9.2"/>
<path d="M298.5,500.7 C288,502 270,515 262.7,530 C257.8,540 252,560 251,573" fill="none" stroke="#0a86d0" stroke-width="7.8"/>
<!-- bottom grey hose -->
<path d="M298,500.2 Q306,497.5 319,497.2" fill="none" stroke="#222" stroke-width="9.2"/>
<path d="M298,500.2 Q306,497.5 319,497.2" fill="none" stroke="#62625f" stroke-width="7.2"/>
<path d="M298.7,500 Q306,497.5 319,497.2" fill="none" stroke="#50504e" stroke-width="6.6" stroke-dasharray="0.8 1.4"/>

<!-- bottom blue arrow -->
<path d="M535.5,268.5 L535.5,258.7 L531.2,258.7 L538.4,239.9 L545.5,258.7 L541.4,258.7 L541.4,268.5 A2.95,2.95 0 0 1 535.5,268.5 Z" fill="#0a85d0" stroke="#f8ebe0" stroke-width="1.6" stroke-linejoin="round" paint-order="stroke"/>
<use href="#vac"/>
<use href="#vac" transform="translate(206,393.5)"/>
<g fill="#ffffff">
<path d="M619,69.2 L627.4,97.6 L611.2,97.6 Z"/>
<path d="M611.2,145.2 L627.4,145.2 L619,173.2 Z"/>
<path d="M619,371 L627.4,399 L611.2,399 Z"/>
<path d="M611.2,445.4 L627.4,445.4 L619,474.5 Z"/>
<path d="M254.2,207.1 L282.7,198.9 L282.7,215.6 Z"/>
<path d="M469.8,198.9 L469.8,215.6 L498.3,207.1 Z"/>
<path d="M355.8,595.3 L384.3,586.6 L384.3,603.8 Z"/>
<path d="M491.5,586.6 L491.5,603.8 L520,595.3 Z"/>
<path d="M149.1,575.9 L157.3,603.6 L140.9,603.6 Z"/>
<path d="M140.9,677 L157.3,677 L149.1,704.4 Z"/>
</g>
<g fill="#ffffff" font-size="30.5" style="will-change:transform">
<text x="616" y="131.3" text-anchor="middle">3 m</text>
<text x="616" y="432.3" text-anchor="middle">9 m</text>
<text x="384" y="216.4" font-size="30" text-anchor="middle">50 m</text>
<text x="435.8" y="604.6" font-size="30" text-anchor="middle">10 m</text>
<text x="144.8" y="631.2" font-size="30.1" text-anchor="middle">2,3 m tauchend</text>
<text x="144.8" y="666.5" font-size="30.1" text-anchor="middle">8,0 m schlürfend</text>
</g>
<rect x="404.2" y="601.6" width="5.8" height="3.8" fill="url(#blk2)"/>
<rect x="413" y="601.6" width="5.6" height="3.8" fill="url(#blk2)"/>
</svg>
</body></html>
